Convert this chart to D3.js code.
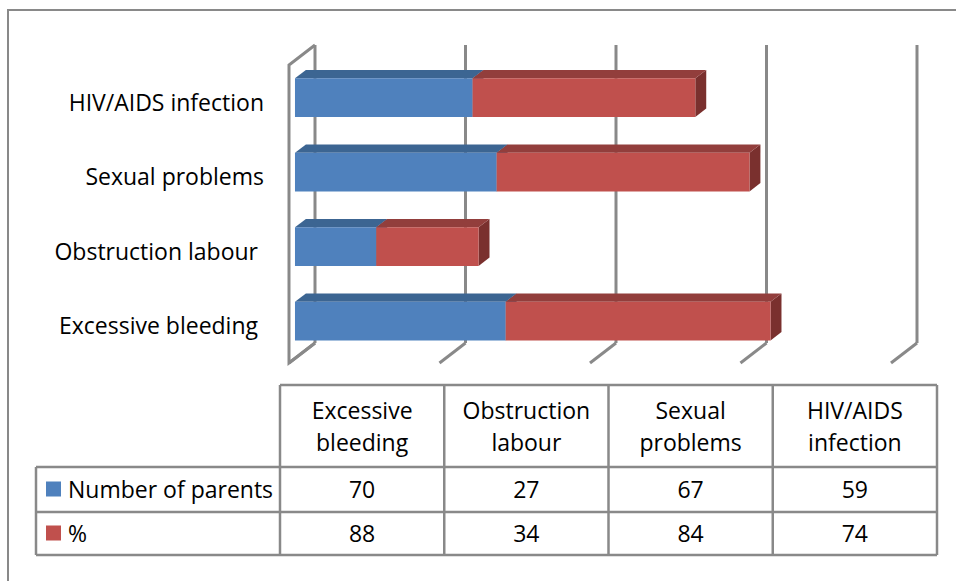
<!DOCTYPE html>
<html>
<head>
<meta charset="utf-8">
<script src="https://cdn.jsdelivr.net/npm/d3@7"></script>
<style>
  html, body { margin: 0; padding: 0; background: #fff; }
  svg text { font-family: "Open Sans", Lato, sans-serif; fill: #000; }
</style>
</head>
<body>
<svg id="chart" width="956" height="581"></svg>
<script>
// ---- data ----
const categories = ["Excessive bleeding", "Obstruction labour", "Sexual problems", "HIV/AIDS infection"];
const axisLabels = ["Excessive bleeding ", "Obstruction labour ", "Sexual problems", "HIV/AIDS infection"];
const headerLines = [["Excessive", "bleeding"], ["Obstruction", "labour"], ["Sexual", "problems"], ["HIV/AIDS", "infection"]];
const seriesNames = ["Number of parents", "%"];
const parents = [70, 27, 67, 59];
const percent = [88, 34, 84, 74];
const valueTicks = [0, 50, 100, 150, 200];

// ---- styling ----
const FONT = 23;
const GRAY = "#898989";
const colors = {
  front: ["#4F81BD", "#C0504D"],
  top:   ["#3C6592", "#923E3C"],
  side:  ["#345A85", "#7A302E"]
};

const svg = d3.select("#chart");

// outer frame
svg.append("rect").attr("x", 8).attr("y", 10).attr("width", 1000).attr("height", 700)
  .attr("fill", "none").attr("stroke", GRAY).attr("stroke-width", 2);

// ---- 3D plot geometry ----
const x = d3.scaleLinear().domain([0, 200]).range([315, 917]);
const y = d3.scaleBand().domain(categories.slice().reverse()).range([45, 343])
  .paddingInner(0.48).paddingOuter(0.24);
const yTop = 45, yBot = 343;
const DX = -26, DY = 20;      // depth vector back -> front
const fF = 0.77, fB = 0.35;   // bar front / back depth fractions
const pt = (v, yy, f) => [x(v) + DX * f, yy + DY * f];

const grid = svg.append("g").attr("stroke", GRAY).attr("stroke-width", 3).attr("fill", "none")
  .attr("stroke-linecap", "butt");
// back wall gridlines
grid.selectAll("line.v").data(valueTicks).join("line").attr("class", "v")
  .attr("x1", d => x(d)).attr("x2", d => x(d)).attr("y1", yTop).attr("y2", yBot);
// floor diagonals
grid.selectAll("line.f").data(valueTicks).join("line").attr("class", "f")
  .attr("x1", d => x(d)).attr("y1", yBot).attr("x2", d => x(d) + DX).attr("y2", yBot + DY);
// left wall outline
grid.append("path")
  .attr("d", d3.line()([[x(0), yTop], [x(0) + DX, yTop + DY], [x(0) + DX, yBot + DY], [x(0), yBot]]))
  .attr("stroke-linejoin", "miter");

// ---- stacked bars ----
const rows = categories.map((c, i) => ({ cat: c, s0: parents[i], s1: percent[i] }));
const stacked = d3.stack().keys(["s0", "s1"])(rows);
const poly = pts => d3.line()(pts) + "Z";

stacked.forEach((layer, si) => {
  const g = svg.append("g");
  layer.forEach(seg => {
    const cat = seg.data.cat;
    const y0 = y(cat), y1 = y(cat) + y.bandwidth();
    const v0 = seg[0], v1 = seg[1];
    g.append("path").attr("d", poly([pt(v1, y0, fF), pt(v1, y0, fB), pt(v1, y1, fB), pt(v1, y1, fF)]))
      .attr("fill", colors.side[si]);
    g.append("path").attr("d", poly([pt(v0, y0, fF), pt(v1, y0, fF), pt(v1, y0, fB), pt(v0, y0, fB)]))
      .attr("fill", colors.top[si]);
    g.append("path").attr("d", poly([pt(v0, y0, fF), pt(v1, y0, fF), pt(v1, y1, fF), pt(v0, y1, fF)]))
      .attr("fill", colors.front[si]);
  });
});

// category labels (front plane)
svg.append("g").selectAll("text").data(categories).join("text")
  .attr("x", 264)
  .attr("y", (d) => y(d) + y.bandwidth() / 2 + DY)
  .attr("dy", "0.37em")
  .attr("text-anchor", "end")
  .style("white-space", "pre")
  .attr("font-size", FONT)
  .text((d, i) => axisLabels[i]);

// ---- data table ----
const tX0 = 280, tX1 = 937, tLeft = 36;
const rH = [385, 467, 512, 555];
const col = d3.scaleBand().domain(categories).range([tX0, tX1]);
const tbl = svg.append("g").attr("stroke", GRAY).attr("stroke-width", 2.5).attr("fill", "none");
tbl.append("line").attr("x1", tX0).attr("x2", tX1).attr("y1", rH[0]).attr("y2", rH[0]);
[1, 2, 3].forEach(k => tbl.append("line").attr("x1", tLeft).attr("x2", tX1).attr("y1", rH[k]).attr("y2", rH[k]));
tbl.append("line").attr("x1", tLeft).attr("x2", tLeft).attr("y1", rH[1]).attr("y2", rH[3]);
categories.forEach(c => tbl.append("line").attr("x1", col(c)).attr("x2", col(c)).attr("y1", rH[0]).attr("y2", rH[3]));
tbl.append("line").attr("x1", tX1).attr("x2", tX1).attr("y1", rH[0]).attr("y2", rH[3]);

// header text
const hdr = svg.append("g");
categories.forEach((c, i) => {
  const cx = col(c) + col.bandwidth() / 2;
  const cy = (rH[0] + rH[1]) / 2;
  const t = hdr.append("text").attr("text-anchor", "middle").attr("font-size", FONT);
  headerLines[i].forEach((ln, k) => {
    t.append("tspan").attr("x", cx).attr("y", cy + (k - 0.5) * 32).attr("dy", "0.37em").text(ln);
  });
});

// value rows
const series = [parents, percent];
series.forEach((vals, si) => {
  const cy = (rH[si + 1] + rH[si + 2]) / 2;
  svg.append("rect").attr("x", 46).attr("y", cy - 8).attr("width", 15).attr("height", 15)
    .attr("fill", colors.front[si]);
  svg.append("text").attr("x", 68).attr("y", cy).attr("dy", "0.37em").attr("font-size", FONT)
    .text(seriesNames[si]);
  svg.append("g").selectAll("text").data(vals).join("text")
    .attr("x", (d, i) => col(categories[i]) + col.bandwidth() / 2)
    .attr("y", cy).attr("dy", "0.37em").attr("text-anchor", "middle").attr("font-size", FONT)
    .text(d => d);
});
</script>
</body>
</html>
